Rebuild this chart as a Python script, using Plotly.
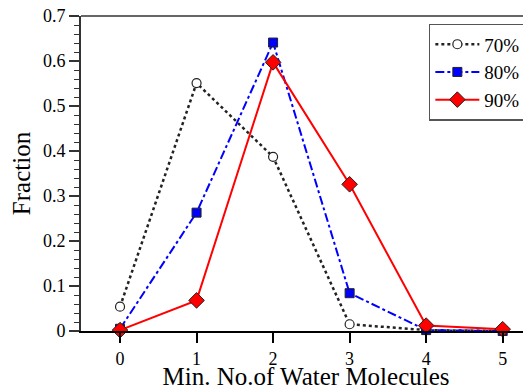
import plotly.graph_objects as go

water_molecules = [0, 1, 2, 3, 4, 5]
frac_70 = [0.054, 0.551, 0.387, 0.015, 0.002, 0.0]
frac_80 = [0.005, 0.263, 0.641, 0.084, 0.002, 0.0]
frac_90 = [0.002, 0.068, 0.597, 0.326, 0.012, 0.004]
series_names = ["70%", "80%", "90%"]
y_ticks = [0, 0.1, 0.2, 0.3, 0.4, 0.5, 0.6, 0.7]

FONT = "Liberation Serif"

fig = go.Figure()
fig.add_trace(go.Scatter(
    x=water_molecules, y=frac_70, name=series_names[0], mode="lines+markers",
    line=dict(color="#222222", width=2.5, dash="dot"),
    marker=dict(symbol="circle", size=9, color="white", line=dict(color="#222222", width=1.2)),
    cliponaxis=False))
fig.add_trace(go.Scatter(
    x=water_molecules, y=frac_80, name=series_names[1], mode="lines+markers",
    line=dict(color="#0000ff", width=2, dash="dashdot"),
    marker=dict(symbol="square", size=9, color="#0000ff", line=dict(color="#222222", width=1)),
    cliponaxis=False))
fig.add_trace(go.Scatter(
    x=water_molecules, y=frac_90, name=series_names[2], mode="lines+markers",
    line=dict(color="#ff0000", width=2),
    marker=dict(symbol="diamond", size=12, color="#ff0000", line=dict(color="#222222", width=1)),
    cliponaxis=False))

fig.add_shape(type="line", xref="paper", yref="paper", x0=0, x1=1, y0=1, y1=1,
              line=dict(color="#666666", width=2))

fig.update_layout(
    width=523, height=382,
    margin=dict(l=73, r=0, t=8, b=59),
    plot_bgcolor="white", paper_bgcolor="white",
    font=dict(family=FONT, size=16, color="black"),
    showlegend=True,
    legend=dict(x=0.773, y=0.975, xanchor="left", yanchor="top",
                bordercolor="#555555", borderwidth=1.5, bgcolor="white",
                font=dict(family=FONT, size=19), tracegroupgap=0, itemwidth=44),
    xaxis=dict(range=[-0.51, 5.37], tickvals=water_molecules, ticks="outside", ticklen=10,
               tickwidth=1.5, tickcolor="black", showline=True, linecolor="black", linewidth=2,
               showgrid=False, zeroline=False, automargin=False,
               title=dict(text="Min. No.of Water Molecules", font=dict(family=FONT, size=25), standoff=4),
               tickfont=dict(family=FONT, size=18), ticklabeloverflow="allow"),
    yaxis=dict(range=[0, 0.7], tickvals=y_ticks, ticks="outside", ticklen=10, tickwidth=1.5,
               tickcolor="#333333", showline=True, linecolor="#333333", linewidth=2,
               showgrid=False, zeroline=False, automargin=False,
               minor=dict(dtick=0.02, ticks="outside", ticklen=5, tickcolor="#333333", tickwidth=1),
               title=dict(text="Fraction", font=dict(family=FONT, size=25), standoff=6),
               tickfont=dict(family=FONT, size=18), ticklabeloverflow="allow"),
)

fig.write_html("out.html")
